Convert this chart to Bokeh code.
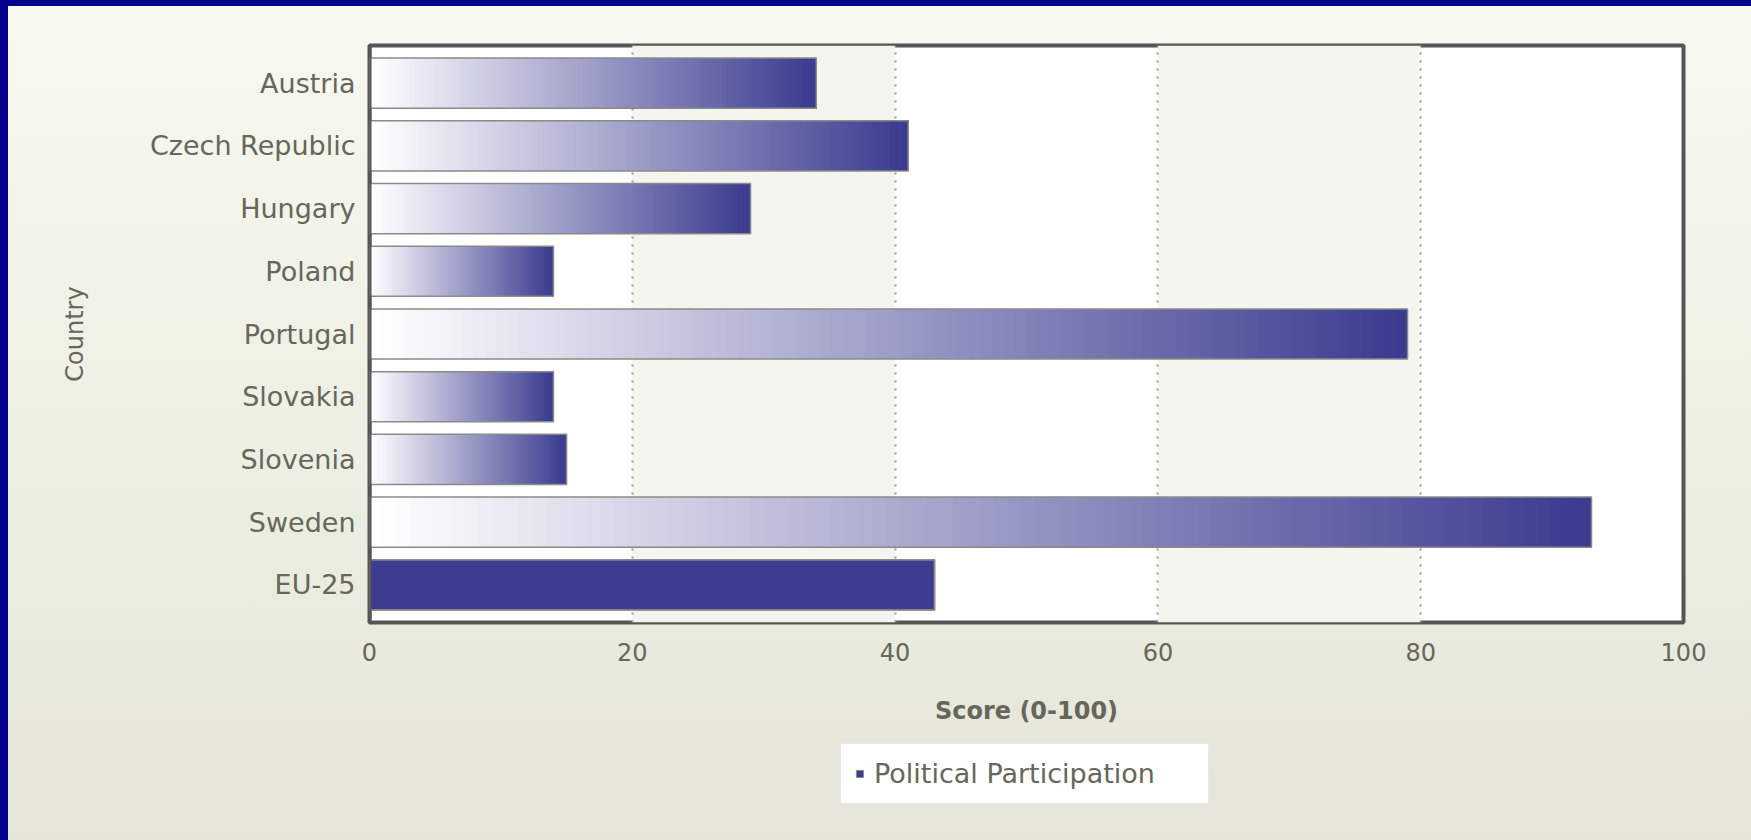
import numpy as np
from bokeh.plotting import figure
from bokeh.layouts import column
from bokeh.models import (Range1d, FactorRange, FixedTicker, Legend, LegendItem,
                          ColumnDataSource, GlobalInlineStyleSheet, Span)
from bokeh.embed import file_html
from bokeh.resources import INLINE

# ---- data ----
categories = ["Austria", "Czech Republic", "Hungary", "Poland", "Portugal",
              "Slovakia", "Slovenia", "Sweden", "EU-25"]
scores = [34, 41, 29, 14, 79, 14, 15, 93, 43]
gradient_flags = [True, True, True, True, True, True, True, True, False]
x_ticks = [0, 20, 40, 60, 80, 100]
series_name = "Political Participation"
x_title = "Score (0-100)"
y_title = "Country"

# ---- style ----
TEXT = "#66665a"
DARK = (59, 59, 144)
START = (255, 255, 255)
SOLID = "#3c3c91"
FONT = "DejaVu Sans"
N_SLICES = 90

W = 1743
H_MAIN, H_LEG = 734, 100
FRAME_L, FRAME_R = 361, 68


def make_y_range():
    return FactorRange(factors=list(reversed(categories)),
                       range_padding=0.1, range_padding_units="absolute")


p = figure(width=W, height=H_MAIN, output_backend="svg", toolbar_location=None,
           x_range=Range1d(x_ticks[0], x_ticks[-1]), y_range=make_y_range(),
           min_border_left=FRAME_L, min_border_right=FRAME_R, min_border_top=39,
           min_border_bottom=118)

p.border_fill_alpha = 0
p.background_fill_color = "#ffffff"
p.outline_line_color = "#555555"
p.outline_line_width = 4

# grid
p.ygrid.grid_line_color = None
p.xgrid.ticker = FixedTicker(ticks=x_ticks)
p.xgrid.grid_line_color = "#9a9a9a"
p.xgrid.grid_line_width = 2
p.xgrid.grid_line_dash = "2 6"
p.xgrid.band_fill_color = "#f4f5ee"
p.xgrid.band_fill_alpha = 1.0

# gradient bars built from slices (each slice runs to the bar end so no seams)
ys, lefts, rights, colors = [], [], [], []
for cat, val, grad in zip(categories, scores, gradient_flags):
    if not grad:
        continue
    for i in range(N_SLICES):
        t = i / (N_SLICES - 1)
        c = tuple(int(round(START[k] + (DARK[k] - START[k]) * t)) for k in range(3))
        ys.append(cat)
        lefts.append(val * i / N_SLICES)
        rights.append(val)
        colors.append("#%02x%02x%02x" % c)
src = ColumnDataSource(dict(y=ys, left=lefts, right=rights, color=colors))
p.hbar(y="y", left="left", right="right", height=0.8, source=src,
       fill_color="color", line_color=None)

# solid bar(s)
solid_src = ColumnDataSource(dict(
    y=[c for c, g in zip(categories, gradient_flags) if not g],
    right=[v for v, g in zip(scores, gradient_flags) if not g]))
p.hbar(y="y", left=0, right="right", height=0.8, source=solid_src,
       fill_color=SOLID, line_color="#8a8a8a", line_width=1.5)

# outlines for all bars
out_src = ColumnDataSource(dict(y=categories, right=scores))
p.hbar(y="y", left=0, right="right", height=0.8, source=out_src,
       fill_alpha=0, line_color="#8a8a8a", line_width=1.5)

# left frame border drawn above the bars (bars start at the axis origin)
p.add_layout(Span(location=x_ticks[0], dimension="height", line_color="#555555",
                  line_width=4, level="overlay"))

# axes
p.xaxis.ticker = FixedTicker(ticks=x_ticks)
p.xaxis.axis_line_color = None
p.xaxis.major_tick_line_color = None
p.xaxis.minor_tick_line_color = None
p.xaxis.major_label_standoff = 14
p.xaxis.major_label_text_font = FONT
p.xaxis.major_label_text_font_size = "24px"
p.xaxis.major_label_text_color = TEXT
p.xaxis.axis_label = x_title
p.xaxis.axis_label_text_font = FONT
p.xaxis.axis_label_text_font_size = "24px"
p.xaxis.axis_label_text_font_style = "bold"
p.xaxis.axis_label_text_color = TEXT
p.xaxis.axis_label_standoff = 33

p.yaxis.axis_line_color = None
p.yaxis.major_tick_line_color = None
p.yaxis.minor_tick_line_color = None
p.yaxis.major_label_standoff = 8
p.yaxis.major_label_text_font = FONT
p.yaxis.major_label_text_font_size = "27px"
p.yaxis.major_label_text_color = TEXT
p.yaxis.axis_label = y_title
p.yaxis.axis_label_text_font = FONT
p.yaxis.axis_label_text_font_size = "24px"
p.yaxis.axis_label_text_font_style = "normal"
p.yaxis.axis_label_text_color = TEXT
p.yaxis.axis_label_standoff = 58

# ---- legend strip below the chart (frame aligned with the main frame) ----
lf = figure(width=W, height=H_LEG, output_backend="svg", toolbar_location=None,
            x_range=Range1d(x_ticks[0], x_ticks[-1]), y_range=make_y_range(),
            x_axis_location=None, y_axis_location=None,
            min_border_left=FRAME_L, min_border_right=FRAME_R, min_border_top=0,
            min_border_bottom=0)
lf.border_fill_alpha = 0
lf.background_fill_alpha = 0
lf.outline_line_color = None
lf.grid.grid_line_color = None
key = lf.hbar(y="y", left=0, right="right", height=0.8, source=solid_src,
              fill_color=SOLID, line_color="#8a8a8a", line_width=1, visible=False)

legend = Legend(items=[LegendItem(label=series_name, renderers=[key])],
                location=(471, 36), orientation="horizontal",
                glyph_width=9, glyph_height=9, label_standoff=10,
                label_text_font=FONT, label_text_font_size="27px",
                label_text_color=TEXT, label_width=320, label_height=26,
                padding=14, margin=0, inactive_fill_alpha=0,
                background_fill_color="#ffffff", background_fill_alpha=1.0,
                border_line_color="#d2d2ca", border_line_width=1)
lf.add_layout(legend)

layout = column(p, lf, spacing=0)
layout.margin = (6, 0, 0, 8)
layout.styles = {"background": "linear-gradient(to bottom, #f7f8ef 0%, #eef0e4 50%, #e4e5d8 100%)"}
layout.stylesheets = [GlobalInlineStyleSheet(
    css="html,body{margin:0;padding:0;background:#02028c;overflow:hidden;}")]

open("out.html", "w").write(file_html(layout, INLINE))
